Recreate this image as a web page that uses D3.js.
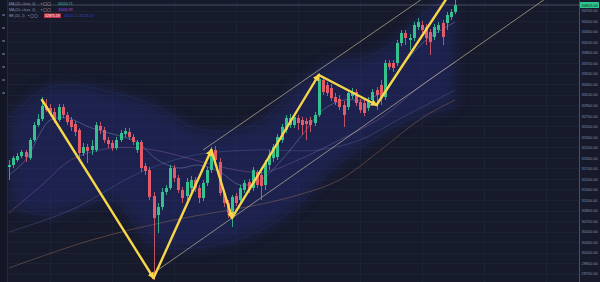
<!DOCTYPE html>
<html>
<head>
<meta charset="utf-8">
<script src="https://cdn.jsdelivr.net/npm/d3@7"></script>
<style>
  html, body { margin: 0; padding: 0; background: #171a2b; }
  svg { display: block; }
</style>
</head>
<body>
<svg id="chart" width="600" height="282"></svg>
<script>
// candles, oldest first (one entry per bar)
const openPrices = [31727,31765,31860,31936,32012,31898,32240,32525,32639,32886,32848,32772,32620,32867,32715,32620,32544,32430,31993,32107,32050,32050,32506,32430,32240,32183,32088,32240,32354,32392,32297,32050,32202,31746,31670,31176,30815,30967,31252,31328,31708,31518,31290,31176,31328,31480,31328,31138,31423,31670,32050,31822,31233,31043,30853,31176,31100,31290,31442,31328,31632,31575,31385,31765,31898,31917,32240,32430,32525,32525,32658,32620,32601,32620,32563,32715,33380,33285,33228,33057,33019,32905,32867,33076,33152,32962,32943,32848,33000,33190,33285,33057,33703,33703,33703,34083,34273,34140,34178,34387,34425,34387,34292,34197,34330,34463,34463,34577,34672];
const highPrices = [31860,31936,31993,32050,32050,32278,32582,32734,33057,33019,32924,32848,32924,32924,32772,32677,32601,32468,32183,32164,32240,32582,32582,32487,32297,32240,32297,32430,32468,32468,32354,32240,32240,31803,31727,31252,31043,31328,31385,31765,31765,31575,31347,31518,31556,31537,31385,31480,31727,32107,32126,31898,31290,31100,31195,31233,31385,31480,31499,31727,31670,31632,31860,32050,32164,32354,32544,32715,32734,32734,32715,32677,32658,32677,32772,33513,33456,33342,33304,33133,33095,32981,33190,33228,33209,33019,33000,33057,33209,33247,33380,33760,33760,33760,34140,34330,34330,34254,34482,34558,34501,34444,34349,34444,34482,34520,34672,34729,34900];
const lowPrices = [31480,31708,31822,31898,31822,31860,32202,32487,32601,32772,32696,32563,32582,32658,32525,32411,32316,31898,31936,31803,31955,32012,32354,32183,32088,32031,32050,32202,32297,32240,32145,31993,31632,31575,31100,29580,30473,30910,31195,31290,31442,31233,31043,31100,31252,31252,31043,31081,31366,31613,31784,31176,30967,30758,30587,30986,31043,31233,31233,31271,31328,31100,31290,31670,31822,31860,32183,32373,32468,32468,32430,32335,32240,32392,32506,32677,33095,33076,32981,32905,32810,32487,32810,33019,32886,32753,32696,32791,32943,32810,32905,33000,33570,33532,33646,34026,34045,33950,34121,34330,34273,34045,33855,34140,34273,34045,34330,34520,34634];
const closePrices = [31765,31898,31936,32012,31917,32240,32525,32639,32886,32810,32753,32620,32867,32715,32582,32487,32392,31993,32107,32031,32126,32525,32430,32240,32164,32088,32240,32373,32411,32297,32202,32202,31708,31651,31157,30758,30967,31252,31328,31708,31518,31290,31138,31442,31480,31328,31138,31423,31670,32050,31860,31233,31043,30853,31157,31043,31328,31423,31290,31670,31385,31366,31803,31955,32107,32297,32487,32658,32658,32677,32563,32525,32544,32525,32715,33399,33152,33133,33038,32962,32867,32715,33133,33152,32943,32810,32753,33000,33152,33095,33057,33703,33627,33608,34083,34273,34178,34178,34425,34482,34330,34178,34102,34387,34425,34197,34615,34672,34805];

// price axis labels
const tickLabels = [34700,34500,34300,34100,33900,33700,33500,33300,33100,32900,32700,32500,32300,32100,31900,31700,31500,31300,31100,30900,30700,30500,30300,30100,29900,29700];

// moving averages, read at a few bars: [bar index, price]
const maFast = [[0,31575],[4,31860],[8,32430],[10,32620],[14,32658],[20,32468],[26,32335],[31,32202],[36,31860],[41,31708],[46,31765],[51,31632],[56,31385],[61,31480],[66,31860],[71,32335],[76,32810],[81,33000],[86,33000],[91,33190],[96,33722],[101,34140],[108,34482]];
const maMid = [[0,30853],[8,31385],[15,31860],[25,32088],[35,32050],[45,31860],[55,31670],[62,31632],[70,31860],[80,32240],[90,32658],[100,33285],[108,33722]];
const maSlow = [[0,30492],[15,30910],[32,31632],[45,31955],[60,32050],[75,32050],[85,32240],[95,32658],[108,33190]];
const maLong = [[0,29808],[20,30340],[40,30720],[60,31005],[70,31195],[80,31480],[90,32050],[100,32658],[108,33000]];

// bollinger band edges
const bbUpper = [[0,32658],[8,33190],[15,33285],[25,33152],[35,32905],[45,32468],[55,32430],[62,32658],[70,33285],[78,33722],[86,33798],[94,34140],[100,34615],[108,34995]];
const bbLower = [[0,31005],[8,30815],[15,30910],[25,31100],[35,30245],[45,30188],[55,30340],[62,30568],[70,31005],[78,31670],[86,32145],[94,32525],[100,32715],[108,32848]];

// yellow swing arrows
const swingPoints = [[8,33000],[35,29618],[49,32050],[54,30758],[75,33475],[89,32905],[107,35052]];

// thin channel lines
const channelUpper = [[47,32050],[100,34919]];
const channelLower = [[35,29713],[130,34930]];

// legend rows
const legendNames = ["MA (20, close, 0)", "MA (50, close, 0)", "BB (20, 2)"];
const legendValues = ["34150.71", "33426.89", "32875.59"];
const legendExtra = "34520.11  31231.07";

const W = 600, H = 282;
const plotLeft = 8, axisX = 579;
const green = "#35c08f", red = "#e15b69";
const font = "Liberation Sans, Arial, sans-serif";

const svg = d3.select("#chart");
svg.append("rect").attr("width", W).attr("height", H).attr("fill", "#171a2b");

const x = d3.scaleLinear().domain([0, 108]).range([9, 455]);
const y = d3.scaleLinear().domain([29542, 34900]).range([H, 0]);

svg.append("clipPath").attr("id", "plot")
  .append("rect").attr("x", plotLeft).attr("y", 0).attr("width", axisX - plotLeft).attr("height", H);

const defs = svg.append("defs");
defs.append("marker")
  .attr("id", "head")
  .attr("viewBox", "0 0 10 10")
  .attr("refX", 8).attr("refY", 5)
  .attr("markerWidth", 7).attr("markerHeight", 7)
  .attr("markerUnits", "userSpaceOnUse")
  .attr("orient", "auto")
  .append("path").attr("d", "M0,0 L10,5 L0,10 z").attr("fill", "#f7d64a");
defs.append("filter").attr("id", "soft")
  .attr("x", "-20%").attr("y", "-20%").attr("width", "140%").attr("height", "140%")
  .append("feGaussianBlur").attr("stdDeviation", 7);

const plot = svg.append("g").attr("clip-path", "url(#plot)");

// grid
plot.selectAll(".hgrid").data(tickLabels).enter().append("line")
  .attr("x1", plotLeft).attr("x2", axisX)
  .attr("y1", d => Math.round(y(d)) + 0.5).attr("y2", d => Math.round(y(d)) + 0.5)
  .attr("stroke", "#1d2134").attr("stroke-width", 1);
plot.selectAll(".vgrid").data([10, 25, 40, 55, 70, 85, 100, 115, 130]).enter().append("line")
  .attr("x1", d => Math.round(x(d)) + 0.5).attr("x2", d => Math.round(x(d)) + 0.5)
  .attr("y1", 0).attr("y2", H)
  .attr("stroke", "#1d2134").attr("stroke-width", 1);

// bollinger band, soft glow like the reference
const bandData = bbUpper.map((d, i) => ({ i: d[0], hi: d[1], lo: bbLower[i][1] }));
plot.append("path")
  .datum(bandData)
  .attr("d", d3.area().curve(d3.curveCatmullRom).x(d => x(d.i)).y0(d => y(d.lo)).y1(d => y(d.hi)))
  .attr("fill", "#27328c").attr("opacity", 0.35)
  .attr("filter", "url(#soft)");
const lineGen = d3.line().curve(d3.curveCatmullRom).x(d => x(d[0])).y(d => y(d[1]));
[bbUpper, bbLower].forEach(s => {
  plot.append("path").datum(s).attr("d", lineGen)
    .attr("fill", "none").attr("stroke", "#3346b0").attr("stroke-width", 0.7).attr("opacity", 0.25);
});

// moving averages
const maStyles = [
  [maFast, "#8e9ad0", 0.5],
  [maMid, "#9a62b0", 0.5],
  [maSlow, "#6f78b8", 0.4],
  [maLong, "#b07b5c", 0.5]
];
maStyles.forEach(([s, c, o]) => {
  plot.append("path").datum(s).attr("d", lineGen)
    .attr("fill", "none").attr("stroke", c).attr("stroke-width", 0.8).attr("opacity", o);
});

// channel lines
const straight = d3.line().x(d => x(d[0])).y(d => y(d[1]));
[channelUpper, channelLower].forEach(s => {
  plot.append("path").datum(s).attr("d", straight)
    .attr("fill", "none").attr("stroke", "#d8d2a8").attr("stroke-width", 0.8).attr("opacity", 0.75);
});

// candles
const candles = openPrices.map((o, i) => ({
  i: i, o: o, h: highPrices[i], l: lowPrices[i], c: closePrices[i]
}));
const bodyW = 3;
const cg = plot.selectAll(".candle").data(candles).enter().append("g");
cg.append("line")
  .attr("x1", d => Math.round(x(d.i)) + 0.5).attr("x2", d => Math.round(x(d.i)) + 0.5)
  .attr("y1", d => y(d.h)).attr("y2", d => y(d.l))
  .attr("stroke", d => d.c >= d.o ? green : red).attr("stroke-width", 1).attr("opacity", 0.85);
cg.append("rect")
  .attr("x", d => Math.round(x(d.i)) + 0.5 - bodyW / 2)
  .attr("width", bodyW)
  .attr("y", d => y(Math.max(d.o, d.c)))
  .attr("height", d => Math.max(1, Math.abs(y(d.o) - y(d.c))))
  .attr("fill", d => d.c >= d.o ? green : red);

// swing arrows
for (let k = 0; k < swingPoints.length - 1; k++) {
  plot.append("path")
    .datum([swingPoints[k], swingPoints[k + 1]])
    .attr("d", straight)
    .attr("fill", "none")
    .attr("stroke", "#f7d64a")
    .attr("stroke-width", 2.4)
    .attr("stroke-linecap", "round")
    .attr("marker-end", "url(#head)");
}

// last price line
const last = closePrices[closePrices.length - 1];
svg.append("line")
  .attr("x1", plotLeft).attr("x2", axisX)
  .attr("y1", y(last)).attr("y2", y(last))
  .attr("stroke", "#9aa1bd").attr("stroke-width", 0.6).attr("opacity", 0.6);

// left toolbar strip
svg.append("rect").attr("x", 0).attr("y", 0).attr("width", plotLeft).attr("height", H).attr("fill", "#131624");
svg.append("line").attr("x1", plotLeft - 0.5).attr("x2", plotLeft - 0.5).attr("y1", 0).attr("y2", H)
  .attr("stroke", "#262a3d").attr("stroke-width", 1);
svg.selectAll(".tool").data([14, 27, 40, 53, 66, 79, 92]).enter().append("rect")
  .attr("x", 2).attr("y", d => d).attr("width", 3).attr("height", 2)
  .attr("fill", "#4d5268");

// right price axis
const axis = svg.append("g")
  .attr("transform", "translate(" + axisX + ",0)")
  .call(d3.axisRight(y).tickValues(tickLabels).tickSize(0).tickPadding(2.5).tickFormat(d3.format(".2f")));
axis.select(".domain").attr("stroke", "#4a4f66").attr("stroke-width", 1);
axis.selectAll("text")
  .attr("fill", "#8a8ea3")
  .attr("font-size", "3.9px")
  .attr("font-family", font);

svg.append("rect")
  .attr("x", axisX + 1).attr("y", y(last) - 3).attr("width", 19).attr("height", 6)
  .attr("fill", "#2fc48e").attr("rx", 0.5);
svg.append("text")
  .attr("x", axisX + 2.5).attr("y", y(last) + 1.5)
  .attr("font-size", "3.9px").attr("font-family", font)
  .attr("fill", "#0d2a1f").text(d3.format(".2f")(last));

// legend
const legendColors = [["#2fc48e", null], ["#b04ad0", null], ["#ffffff", "#c43047"]];
legendNames.forEach((name, r) => {
  const ly = 5 + r * 6;
  svg.append("text").attr("x", 9).attr("y", ly)
    .attr("font-size", "3.5px").attr("font-family", font)
    .attr("fill", "#8d91a6").text(name);
  const ix = r === 2 ? 28 : 41;
  svg.append("text").attr("x", ix).attr("y", ly)
    .attr("font-size", "3.5px").attr("font-family", font)
    .attr("fill", "#c9ccd8").text("\u25AA \u25A2\u25A2");
  const vx = r === 2 ? 45 : 58;
  if (legendColors[r][1]) {
    svg.append("rect").attr("x", vx - 1).attr("y", ly - 3.6).attr("width", 17).attr("height", 4.6)
      .attr("fill", legendColors[r][1]);
  }
  svg.append("text").attr("x", vx).attr("y", ly)
    .attr("font-size", "3.5px").attr("font-family", font)
    .attr("fill", legendColors[r][0]).text(legendValues[r]);
});
svg.append("text").attr("x", 64).attr("y", 17)
  .attr("font-size", "3.5px").attr("font-family", font)
  .attr("fill", "#2f46c8").text(legendExtra);
</script>
</body>
</html>
